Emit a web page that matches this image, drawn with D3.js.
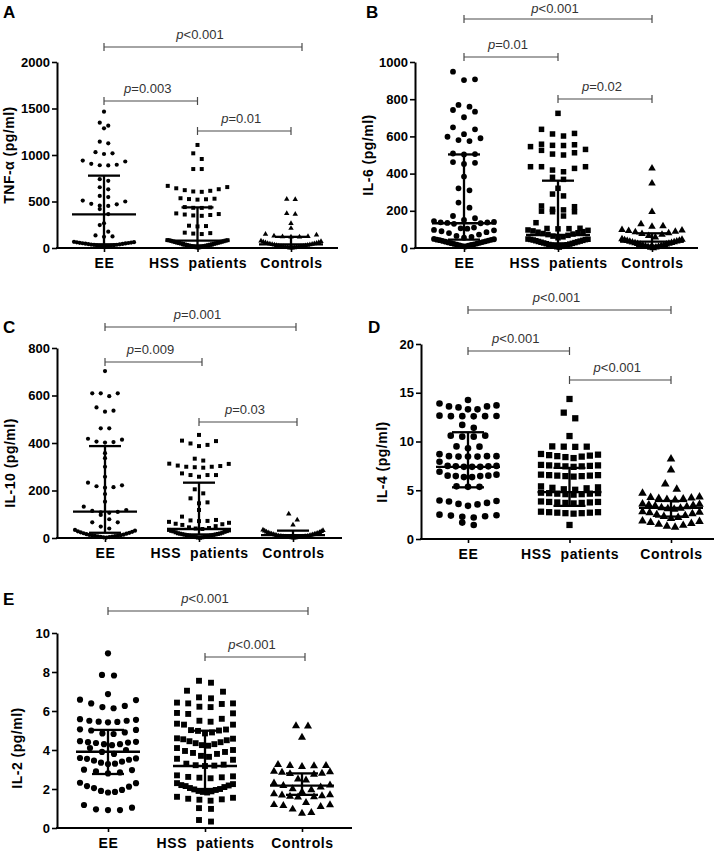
<!DOCTYPE html>
<html><head><meta charset="utf-8">
<script src="https://cdn.jsdelivr.net/npm/d3@7"></script>
<style>
body{margin:0;background:#fff}
svg{display:block}
text{font-family:"Liberation Sans",Arial,Helvetica,sans-serif}
</style>
</head><body>
<svg id="c" width="716" height="851"></svg>
<script>
// ---------------- DATA ----------------
const categories = ["EE", "HSS  patients", "Controls"];
const panelLetters = ["A", "B", "C", "D", "E"];
const yTitles = ["TNF-\u03b1 (pg/ml)", "IL-6 (pg/ml)", "IL-10 (pg/ml)", "IL-4 (pg/ml)", "IL-2 (pg/ml)"];

const ticksA = [0, 500, 1000, 1500, 2000];
const ticksB = [0, 200, 400, 600, 800, 1000];
const ticksC = [0, 200, 400, 600, 800];
const ticksD = [0, 5, 10, 15, 20];
const ticksE = [0, 2, 4, 6, 8, 10];

// Panel A: TNF-alpha
const tnfEE = [1466,1348,1315,1287,1143,1126,1030,1018,1011,940,930,905,895,890,888,740,722,653,631,560,548,510,500,475,470,455,452,419,365,265,247,176,135,125,120,
  16,18,21,23,26,28,30,33,35,37,40,42,44,47,49,51,54,56,58,61,63,66];
const tnfHSS = [1108,1018,957,849,849,668,655,642,632,622,615,608,604,535,530,526,524,520,440,436,432,431,372,365,360,355,350,346,240,236,232,165,160,155,150,
  5,8,10,12,15,17,20,22,25,27,30,32,35,37,40,43,45,48,50,53,56,58,61,64,67,70,73,76,79,82,84,85];
const tnfCtrl = [525,522,372,365,265,212,150,140,130,125,122,118,118,
  0,2,4,6,8,10,12,14,16,18,20,22,25,27,30,32,35,38,41,44,47,50,53,57,61,65,70,76];
const tnfQ1 = [40, 28, 15], tnfMed = [362, 80, 40], tnfQ3 = [778, 437, 120];
const pA = ["<0.001", "=0.003", "=0.01"];

// Panel B: IL-6
const il6EE = [948,907,903,769,760,742,733,703,649,638,612,598,590,580,575,508,505,503,462,458,452,384,321,310,244,217,172,160,151,145,140,138,137,135,133,130,110,106,104,97,95,90,85,80,72,65,60,55,
  8,10,12,14,16,18,20,22,24,26,28,30,32,34,36,38,40,42,44,45,47,49];
const il6HSS = [724,638,616,613,602,558,555,552,551,545,530,525,512,505,500,437,437,437,428,419,410,380,369,321,290,280,226,222,208,205,198,195,195,172,136,106,105,104,103,97,95,92,88,85,82,78,75,72,68,64,60,55,
  5,7,9,11,13,15,17,19,21,23,25,27,29,31,33,35,37,39,41,43,45,46,47,48];
const il6Ctrl = [428,348,195,129,118,115,98,95,92,88,85,80,76,72,65,58,
  0,2,4,6,8,10,12,14,16,18,20,22,24,26,28,30,32,34,36,38,40,42,45,48];
const il6Q1 = [45, 25, 12], il6Med = [133, 70, 34], il6Q3 = [503, 362, 79];
const pB = ["<0.001", "=0.01", "=0.02"];

// Panel C: IL-10
const il10EE = [703,609,609,609,597,550,536,532,462,462,418,414,406,404,402,357,336,300,258,233,222,218,214,212,185,153,132,118,114,110,108,106,97,79,66,66,48,40,
  2,3,4,5,6,7,8,9,10,11,12,13,14,16,18,20,22,24,26,28,31,34];
const il10HSS = [434,410,408,398,392,387,334,326,313,312,305,303,300,300,298,296,272,265,265,265,258,205,188,167,150,146,118,90,76,74,72,71,68,64,60,58,55,50,45,42,40,38,
  1,2,3,4,5,6,7,8,9,10,11,12,13,14,15,16,17,18,19,20,22,24,26,28,29,30,32,34];
const il10Ctrl = [101,76,55,
  0,1,1,2,2,3,3,4,4,5,5,6,6,7,7,8,8,9,10,11,12,13,14,15,16,17,18,19,20,22,24,26,28,30,32,34];
const il10Q1 = [22, 15, 5], il10Med = [111, 38, 12], il10Q3 = [387, 233, 31];
const pC = ["=0.001", "=0.009", "=0.03"];

// Panel D: IL-4
const il4EE = [14.26, 13.9,13.7,13.6,13.6,13.5,13.3,13.3, 12.65,12.62,12.6,12.6,12.58,12.6, 11.7,11.4, 10.6,10.5,10.5,10.6, 9.5,9.47,9.3,
  8.7,8.5,8.5,8.45,8.45,8.45,8.5, 7.93,7.5,7.45,7.4,7.4,7.4,7.45,7.5, 6.9,6.6,6.5,6.45,6.35,6.35,6.45,6.5, 5.4,5.35,5.35,
  3.95,3.9,3.7,3.55,3.4,3.6,3.85, 2.44,2.34,2.2,2.27,2.4,2.5,1.44,1.68];
const il4HSS = [14.36, 12.96,12.38, 10.56, 9.5,9.47,9.47,9.45, 8.72,8.65,8.55,8.45,8.3,8.4,8.5,8.6,
  7.6,7.55,7.5,7.45,7.4,7.45,7.5,7.55, 6.6,6.55,6.5,6.45,6.4,6.45,6.5,6.55, 5.4,5.3,5.2,5.05,5.1,5.25,
  4.75,4.7,4.65,4.6,4.55,4.6,4.65,4.7, 3.85,3.8,3.75,3.7,3.65,3.7,3.75,3.8, 2.8,2.75,2.7,2.65,2.6,2.65,2.7,2.75, 1.44];
const il4Ctrl = [8.2, 7.08, 5.64,5.1, 4.7,4.3,4.25,4.2,4.15,4.1,4.05,4.0,
  3.6,3.55,3.5,3.45,3.4,3.3,3.2,3.15,3.1,3.05, 2.8,2.75,2.7,2.6,2.5,2.4,2.3,2.2,2.1, 1.85,1.8,1.7,1.6,1.5,1.4,1.3,1.2];
const il4Q1 = [5.3, 3.4, 2.3], il4Med = [7.4, 4.8, 3.2], il4Q3 = [10.95, 7.3, 3.9];
const pD = ["<0.001", "<0.001", "<0.001"];

// Panel E: IL-2
const il2EE = [8.96, 7.85,7.82, 6.87, 6.58,6.56,6.39,6.26,6.2,6.14, 5.58,5.55,5.5,5.5,5.45,5.44,5.42, 5.06,5.03,5.0,4.9,4.85,4.82,
  4.45,4.42,4.4,4.38,4.36,4.3,4.3,4.25, 4.1,4.0,3.9,3.8, 3.59,3.57,3.55,3.5,3.45,3.4,3.35,3.3,3.28,
  2.99,2.97,2.9,2.85,2.8, 2.32,2.3,2.15,2.12,2.05,1.95,1.9,1.85,1.82, 1.18,1.04,0.96,0.92,0.92];
const il2HSS = [7.55,7.45, 7.04,6.99,6.7,6.65, 6.43,6.39,6.39,6.36,6.22,6.2, 5.9,5.88,5.85,5.6,5.5,5.45,
  5.35,5.3,5.3,5.05,5.02,5.0,4.98,4.9,4.85, 4.6,4.58,4.55,4.5,4.45,4.4,4.35,4.3,4.25,4.22,
  4.1,4.0,3.95,3.9,3.85,3.8,3.7,3.65, 3.55,3.5,3.3,3.25,3.22,3.2,3.18, 2.7,2.65,2.62,2.6,2.58,2.55,
  2.3,2.25,2.2,2.18,2.15,2.1,2.05,2.0,1.98,1.95,1.9,1.88,1.85,1.82, 1.6,1.55,1.5,1.47,1.45,1.4, 1.02,0.98, 0.41,0.33];
const il2Ctrl = [5.23,5.22, 4.65, 3.25,3.2,3.2,3.18,3.15, 2.9,2.88,2.85,2.8,2.78,2.75,2.5,2.45,
  2.3,2.2,2.17,2.1,2.0,1.95,1.85, 1.75,1.7,1.68,1.65,1.62,1.6,1.58,1.3, 1.19,1.18,1.15,1.1,0.96,0.79,0.75];
const il2Q1 = [2.77, 2.0, 1.7], il2Med = [3.91, 3.18, 2.17], il2Q3 = [5.03, 4.99, 2.8];
const pE = ["<0.001", "<0.001"];

// ---------------- LAYOUT ----------------
const panels = [
  {data:[tnfEE,tnfHSS,tnfCtrl], q1:tnfQ1, med:tnfMed, q3:tnfQ3, ticks:ticksA, max:2000,
   ax:57, xEnd:338, y0:248, y1:62, c0:104, c2:291, binV:86, sp:8.5, maxW:60, d:4.2,
   letter:[3,18], title:[9,155],
   br:[{i:0,j:2,y:47,p:pA[0],ext:11},{i:0,j:1,y:101,p:pA[1],ext:0},{i:1,j:2,y:131,p:pA[2],ext:0}]},
  {data:[il6EE,il6HSS,il6Ctrl], q1:il6Q1, med:il6Med, q3:il6Q3, ticks:ticksB, max:1000,
   ax:415, xEnd:698, y0:248, y1:62, c0:464, c2:652, binV:50, sp:11, maxW:60, d:5.8,
   letter:[366,18], title:[368,155],
   br:[{i:0,j:2,y:19,p:pB[0],ext:0,ty:6},{i:0,j:1,y:57,p:pB[1],ext:0},{i:1,j:2,y:99,p:pB[2],ext:0}]},
  {data:[il10EE,il10HSS,il10Ctrl], q1:il10Q1, med:il10Med, q3:il10Q3, ticks:ticksC, max:800,
   ax:57, xEnd:342, y0:538, y1:348, c0:105, c2:293, binV:35, sp:8.5, maxW:60, d:4.2,
   letter:[3,333], title:[10,463],
   br:[{i:0,j:2,y:327,p:pC[0],ext:3},{i:0,j:1,y:362,p:pC[1],ext:3},{i:1,j:2,y:422,p:pC[2],ext:4}]},
  {data:[il4EE,il4HSS,il4Ctrl], q1:il4Q1, med:il4Med, q3:il4Q3, ticks:ticksD, max:20,
   ax:421, xEnd:714, y0:539, y1:344, c0:468, c2:671, binV:1, sp:11.5, maxW:57, d:6.6,
   letter:[368,333], title:[382,462],
   br:[{i:0,j:2,y:310,p:pD[0],ext:0,dx:-10},{i:0,j:1,y:351,p:pD[1],ext:0},{i:1,j:2,y:380,p:pD[2],ext:0}]},
  {data:[il2EE,il2HSS,il2Ctrl], q1:il2Q1, med:il2Med, q3:il2Q3, ticks:ticksE, max:10,
   ax:57, xEnd:352, y0:828, y1:633, c0:108, c2:302, binV:0.6, sp:12, maxW:56, d:6.2,
   letter:[3,605], title:[17,748],
   br:[{i:0,j:2,y:611,p:pE[0],ext:6},{i:1,j:2,y:657,p:pE[1],ext:3}]}
];

const svg = d3.select("#c");

// Prism-like scatter spreading: values in the same bin placed alternately from the centre
function spread(values, binV, sp, maxW) {
  const bins = d3.group(values, v => Math.floor(v / binV + 1e-9));
  const out = [];
  for (const [, arr] of bins) {
    const s = arr.slice().sort((a, b) => a - b);
    const n = s.length;
    const step = n > 1 ? Math.min(sp, maxW / (n - 1)) : 0;
    s.forEach((v, i) => {
      let off;
      if (n % 2 === 1) off = i === 0 ? 0 : Math.ceil(i / 2) * (i % 2 === 1 ? 1 : -1);
      else off = (Math.floor(i / 2) + 0.5) * (i % 2 === 0 ? 1 : -1);
      out.push({v, dx: off * step});
    });
  }
  return out;
}

panels.forEach((cfg, pi) => {
  const g = svg.append("g");
  const y = d3.scaleLinear().domain([0, cfg.max]).range([cfg.y0, cfg.y1]);
  const x = d3.scalePoint().domain(categories).range([cfg.c0, cfg.c2]);

  // symbols
  const d = cfg.d;
  const syms = [
    d3.symbol(d3.symbolCircle, Math.PI * (d / 2) * (d / 2)),
    d3.symbol(d3.symbolSquare, (d * 0.95) * (d * 0.95)),
    d3.symbol(d3.symbolTriangle, Math.sqrt(3) / 4 * (d * 1.3) * (d * 1.3))
  ];

  // points
  cfg.data.forEach((vals, gi) => {
    const pts = spread(vals, cfg.binV, cfg.sp, cfg.maxW);
    g.append("g").selectAll("path").data(pts).join("path")
      .attr("transform", p => `translate(${x(categories[gi]) + p.dx},${y(p.v)})`)
      .attr("d", syms[gi]())
      .attr("fill", "#000");
  });

  // median + IQR
  categories.forEach((c, gi) => {
    const cx = x(c);
    const sg = g.append("g").attr("stroke", "#000").attr("stroke-width", 2.3);
    sg.append("line").attr("x1", cx).attr("x2", cx).attr("y1", y(cfg.q1[gi])).attr("y2", y(cfg.q3[gi]));
    sg.append("line").attr("x1", cx - 32).attr("x2", cx + 32).attr("y1", y(cfg.med[gi])).attr("y2", y(cfg.med[gi]));
    [cfg.q1[gi], cfg.q3[gi]].forEach(q => {
      sg.append("line").attr("x1", cx - 16).attr("x2", cx + 16).attr("y1", y(q)).attr("y2", y(q));
    });
  });

  // y axis
  const ya = g.append("g").attr("transform", `translate(${cfg.ax},0)`)
    .call(d3.axisLeft(y).tickValues(cfg.ticks).tickSize(5).tickSizeOuter(0).tickPadding(2).tickFormat(d3.format("d")));
  ya.select(".domain").attr("stroke", "#000").attr("stroke-width", 2);
  ya.selectAll(".tick line").attr("stroke", "#000").attr("stroke-width", 1.6);
  ya.selectAll(".tick text").attr("fill", "#000").attr("font-size", 13).attr("font-weight", "bold")
    .attr("font-family", "'Liberation Sans',Arial,sans-serif");

  // x axis
  g.append("line").attr("x1", cfg.ax - 1).attr("x2", cfg.xEnd).attr("y1", cfg.y0).attr("y2", cfg.y0)
    .attr("stroke", "#000").attr("stroke-width", 2);
  const xa = g.append("g").attr("transform", `translate(0,${cfg.y0})`)
    .call(d3.axisBottom(x).tickSize(4).tickSizeOuter(0).tickPadding(6));
  xa.select(".domain").remove();
  xa.selectAll(".tick line").attr("stroke", "#000").attr("stroke-width", 1.6);
  xa.selectAll(".tick text").attr("fill", "#000").attr("font-size", 14).attr("font-weight", "bold")
    .attr("letter-spacing", 0.6).style("white-space", "pre")
    .attr("font-family", "'Liberation Sans',Arial,sans-serif");

  // y title
  g.append("text").attr("transform", `translate(${cfg.title[0]},${cfg.title[1]}) rotate(-90)`)
    .attr("text-anchor", "middle").attr("dy", "0.36em")
    .attr("font-size", 14).attr("font-weight", "bold").attr("letter-spacing", 0.5)
    .text(yTitles[pi]);

  // panel letter
  g.append("text").attr("x", cfg.letter[0]).attr("y", cfg.letter[1])
    .attr("font-size", 17).attr("font-weight", "bold").text(panelLetters[pi]);

  // significance brackets
  cfg.br.forEach(b => {
    const xa1 = x(categories[b.i]), xb1 = x(categories[b.j]) + b.ext;
    const bg = g.append("g").attr("stroke", "#4a4a4a").attr("stroke-width", 1.2);
    bg.append("line").attr("x1", xa1).attr("x2", xb1).attr("y1", b.y).attr("y2", b.y);
    bg.append("line").attr("x1", xa1).attr("x2", xa1).attr("y1", b.y - 4).attr("y2", b.y + 4);
    bg.append("line").attr("x1", xb1).attr("x2", xb1).attr("y1", b.y - 4).attr("y2", b.y + 4);
    const t = g.append("text").attr("x", (xa1 + xb1) / 2 - 3 + (b.dx || 0)).attr("y", b.y - (b.ty || 8))
      .attr("text-anchor", "middle").attr("font-size", 13).attr("fill", "#333");
    t.append("tspan").attr("font-style", "italic").text("p");
    t.append("tspan").text(b.p);
  });
});
</script>
</body></html>
